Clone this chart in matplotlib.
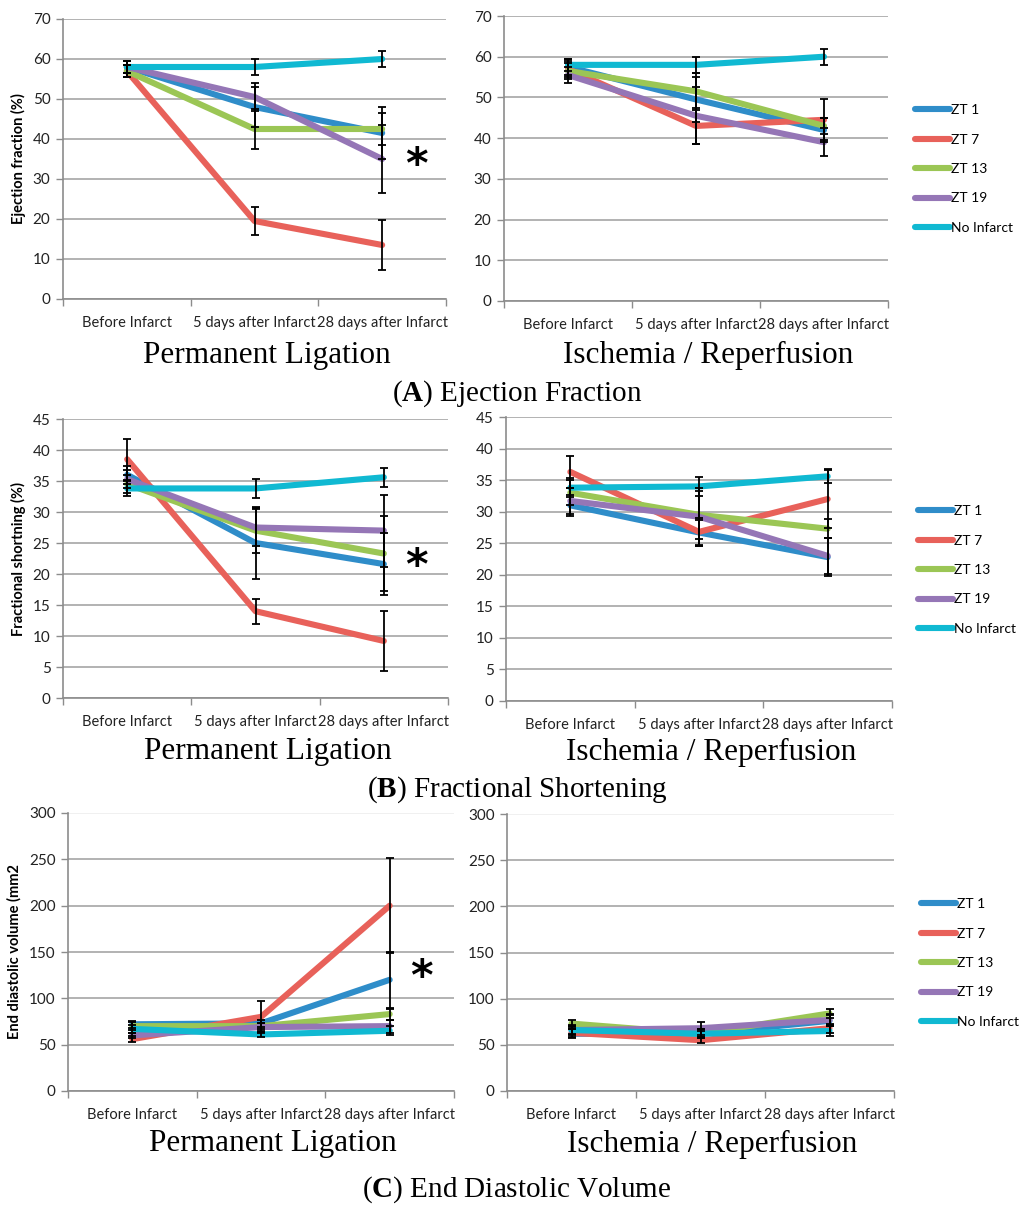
import matplotlib
matplotlib.use('Agg')
import matplotlib.pyplot as plt

plt.rcParams['mathtext.fontset'] = 'custom'
plt.rcParams['mathtext.rm'] = 'Liberation Serif'
plt.rcParams['mathtext.bf'] = 'Liberation Serif:bold'

# categories and groups
days = ['Before Infarct', '5 days after Infarct', '28 days after Infarct']
groups = ['ZT 1', 'ZT 7', 'ZT 13', 'ZT 19', 'No Infarct']
colors = ['#2F8DC9', '#E8615A', '#9BC655', '#9576B6', '#10B9D2']

# (A) ejection fraction, rows = groups
ef_pl = [[58, 48, 41.5], [57, 19.5, 13.5], [57, 42.5, 42.5], [58, 50.5, 35], [58, 58, 60]]
ef_pl_err = [[1.5, 5, 6.5], [1.5, 3.5, 6.3], [1.5, 5, 4], [1.5, 3.5, 8.5], [1.5, 2, 2]]
ef_ir = [[57.5, 49.5, 42], [57, 43, 44.5], [56.5, 51.5, 43], [55.5, 45.5, 39], [58, 58, 60]]
ef_ir_err = [[2, 5.5, 3], [2, 4.5, 5], [2, 4.5, 2], [2, 7, 3.5], [1.5, 2, 2]]

# (B) fractional shortening
fs_pl = [[36, 25, 21.6], [38.5, 14, 9.2], [34.5, 27, 23.3], [35.3, 27.5, 27], [33.8, 33.8, 35.6]]
fs_pl_err = [[1.5, 5.8, 5], [3.3, 2, 4.8], [1.5, 3.6, 6], [1.5, 3, 5.8], [1.2, 1.5, 1.5]]
fs_ir = [[31, 26.7, 22.8], [36.3, 26.8, 32], [33, 29.5, 27.3], [31.7, 29.2, 23], [33.8, 34, 35.6]]
fs_ir_err = [[1.7, 2, 3], [2.5, 2.2, 4.6], [2, 3.8, 1.5], [2, 4.6, 2.8], [1.5, 1.5, 1.1]]

# (C) end diastolic volume
edv_pl = [[72, 73, 120], [56, 80, 200], [70, 70, 83], [60, 69, 70], [67, 61, 65]]
edv_pl_err = [[4, 4, 30], [3, 17, 51], [4, 3, 6], [3, 4, 7], [4, 3, 5]]
edv_ir = [[62, 62, 76], [63, 55, 68], [73, 62, 84], [66, 68, 77], [66, 62, 65]]
edv_ir_err = [[5, 5, 6], [4, 3, 5], [4, 5, 5], [5, 7, 6], [4, 3, 5]]

W, H = 1021, 1205
fig = plt.figure(figsize=(W / 100, H / 100), dpi=100)
tick_font = 'Lato'
serif = 'Liberation Serif'


def box(x0, y0, x1, y1):
    return [x0 / W, 1 - y1 / H, (x1 - x0) / W, (y1 - y0) / H]


def panel(rect, means, errs, ymax, ystep, ylabel=None, faint_top=False):
    ax = fig.add_axes(box(*rect))
    x = [1, 2, 3]
    for m, c, g in zip(means, colors, groups):
        ax.plot(x, m, color=c, lw=4.4, solid_capstyle='round',
                solid_joinstyle='round', label=g, zorder=3)
    for m, e in zip(means, errs):
        ax.errorbar(x, m, yerr=e, fmt='none', ecolor='black', elinewidth=1.3,
                    capsize=3, capthick=1.3, zorder=4)
    ax.set_xlim(0.5, 3.5)
    ax.set_ylim(0, ymax)
    ax.set_yticks(range(0, ymax + 1, ystep))
    ax.set_xticks([0.5, 1.5, 2.5, 3.5])
    ax.set_xticklabels([])
    ax.set_xticks(x, minor=True)
    ax.set_xticklabels(days, minor=True, fontfamily=tick_font, fontsize=10.5)
    ax.tick_params(axis='x', which='major', length=5, color='#8c8c8c', width=1)
    ax.tick_params(axis='x', which='minor', length=0, pad=12)
    ax.tick_params(axis='y', length=5, color='#8c8c8c', width=1, pad=4,
                   labelsize=11)
    for lab in ax.get_yticklabels():
        lab.set_fontfamily(tick_font)
        lab.set_color('#222222')
    for lab in ax.get_xticklabels(minor=True):
        lab.set_color('#222222')
    ax.grid(axis='y', color='#a6a6a6', lw=1.2)
    if faint_top:
        ax.yaxis.get_gridlines()[-1].set_color('#eeeeee')
    ax.set_axisbelow(True)
    for s in ['top', 'right']:
        ax.spines[s].set_visible(False)
    for s in ['left', 'bottom']:
        ax.spines[s].set_color('#8c8c8c')
        ax.spines[s].set_linewidth(1.2)
    if ylabel:
        ax.set_ylabel(ylabel, fontfamily=tick_font, fontweight='bold',
                      fontsize=10.5, labelpad=5)
    return ax


def txt(x, y, s, **kw):
    fig.text(x / W, 1 - y / H, s, ha='center', va='center', **kw)


rows = [
    (ef_pl, ef_pl_err, ef_ir, ef_ir_err, 70, 10, 'Ejection fraction (%)',
     (63, 19, 446, 299), (504, 16, 888, 301), 353, 394, 'A', 'Ejection Fraction',
     (416, 160), 915, 169, False),
    (fs_pl, fs_pl_err, fs_ir, fs_ir_err, 45, 5, 'Fractional shortning (%)',
     (63, 419, 448, 698), (506, 417, 892, 701), 750, 790, 'B', 'Fractional Shortening',
     (416, 561), 918, 570, False),
    (edv_pl, edv_pl_err, edv_ir, edv_ir_err, 300, 50, 'End diastolic volume (mm2',
     (68, 813, 454, 1091), (507, 814, 894, 1091), 1142, 1190, 'C', 'End Diastolic Volume',
     (421, 972), 921, 963, True),
]

for (pl, ple, ir, ire, ymax, ystep, ylab, r1, r2, ty, cy, letter, cap,
     star, lx, ly, faint) in rows:
    panel(r1, pl, ple, ymax, ystep, ylab, faint)
    ax2 = panel(r2, ir, ire, ymax, ystep, None, faint)
    txt((r1[0] + r1[2]) / 2 + 12, ty + 2, 'Permanent Ligation', fontfamily=serif, fontsize=22.5)
    txt((r2[0] + r2[2]) / 2 + 12, ty + 2, 'Ischemia / Reperfusion', fontfamily=serif, fontsize=22.5)
    txt(517, cy, '(' + r'$\mathbf{' + letter + '}$' + ') ' + cap,
        fontfamily=serif, fontsize=21)
    txt(star[0], star[1] + 6, '*', fontfamily='DejaVu Sans', fontweight='bold', fontsize=31)
    h, l = ax2.get_legend_handles_labels()
    fig.legend(h, l, loc='center left', bbox_to_anchor=(lx / W, 1 - ly / H),
               bbox_transform=fig.transFigure, frameon=False, borderpad=0,
               borderaxespad=0, handlelength=2.5, handletextpad=0.1,
               labelspacing=1.25, prop={'family': tick_font, 'size': 10})

fig.savefig('out.png', dpi=100)
